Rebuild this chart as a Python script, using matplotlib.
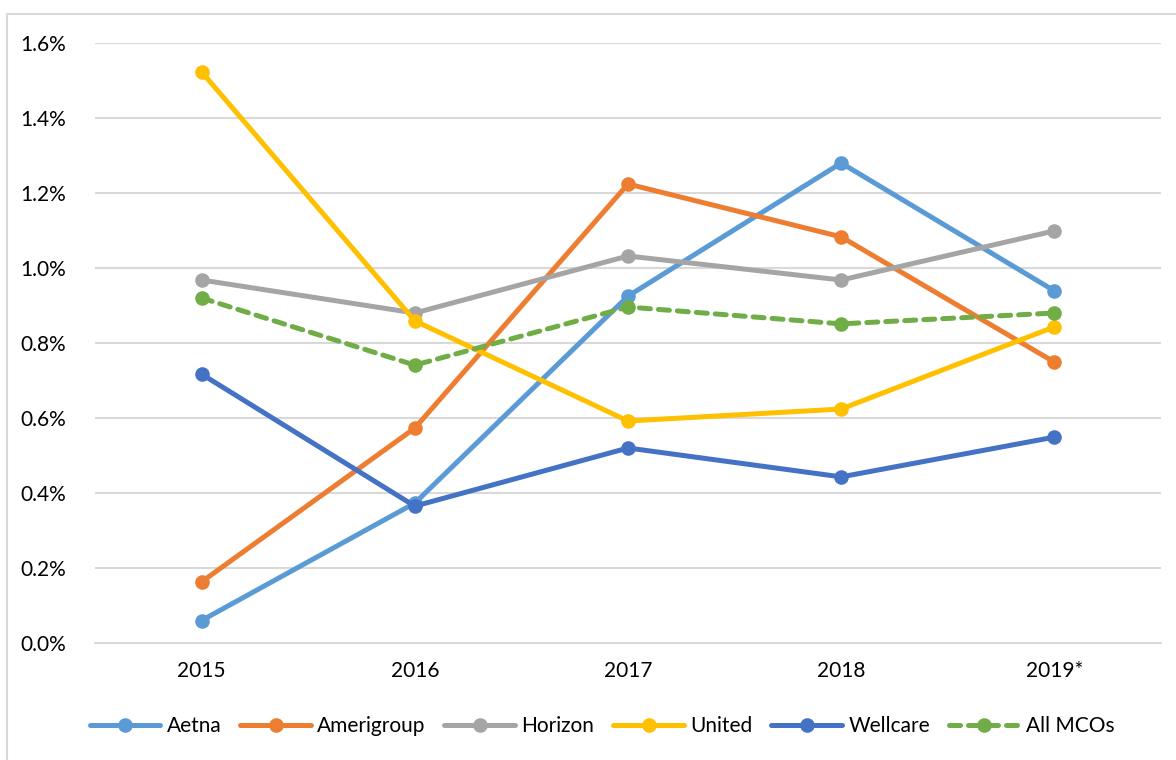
import matplotlib
matplotlib.use("Agg")
import matplotlib.pyplot as plt
from matplotlib.patches import Rectangle
from matplotlib.ticker import FuncFormatter, MultipleLocator

plt.rcParams['font.family'] = ['Lato', 'DejaVu Sans']

years = ["2015", "2016", "2017", "2018", "2019*"]
aetna = [0.06, 0.373, 0.925, 1.28, 0.939]
amerigroup = [0.163, 0.573, 1.224, 1.083, 0.749]
horizon = [0.968, 0.88, 1.032, 0.968, 1.099]
united = [1.523, 0.859, 0.592, 0.624, 0.843]
wellcare = [0.717, 0.365, 0.52, 0.443, 0.549]
all_mcos = [0.92, 0.741, 0.896, 0.851, 0.88]

series = [
    ("Aetna", aetna, "#5B9BD5", "-"),
    ("Amerigroup", amerigroup, "#ED7D31", "-"),
    ("Horizon", horizon, "#A5A5A5", "-"),
    ("United", united, "#FFC000", "-"),
    ("Wellcare", wellcare, "#4472C4", "-"),
    ("All MCOs", all_mcos, "#70AD47", (0, (2.2, 1.6))),
]

fig = plt.figure(figsize=(11.76, 7.6), dpi=100)
fig.patches.append(Rectangle((7/1176, -0.1), 1.2, 1 - 14/760 + 0.1, transform=fig.transFigure,
                             fill=False, edgecolor="#D9D9D9", linewidth=1.5, zorder=0))
ax = fig.add_axes([95/1176, 1 - 643/760, (1161 - 95)/1176, 600/760])

x = list(range(len(years)))
handles = []
for name, vals, color, ls in series:
    h, = ax.plot(x, vals, color=color, linestyle=ls, linewidth=3.6, marker="o",
                 markersize=10.5, markeredgewidth=0, label=name, solid_capstyle="round",
                 dash_capstyle="round", zorder=3)
    handles.append(h)

ax.set_xlim(-0.5, len(years) - 0.5)
ax.set_ylim(0, 1.6)
ax.yaxis.set_major_locator(MultipleLocator(0.2))
ax.yaxis.set_major_formatter(FuncFormatter(lambda v, p: f"{v:.1f}%"))
ax.set_xticks(x)
ax.set_xticklabels(years)
ax.grid(axis="y", color="#D9D9D9", linewidth=1.5, zorder=0)
for s in ax.spines.values():
    s.set_visible(False)
ax.spines["bottom"].set_visible(True)
ax.spines["bottom"].set_color("#D9D9D9")
ax.spines["bottom"].set_linewidth(1.5)
ax.tick_params(axis="both", length=0, labelsize=15, colors="#000000")
ax.tick_params(axis="y", pad=21)
ax.tick_params(axis="x", pad=13)

fig.legend(handles=handles, loc="center", bbox_to_anchor=(602/1176, 1 - 726/760), ncol=6,
           frameon=False, fontsize=15, handlelength=3.4, handletextpad=0.3, columnspacing=0.9)

fig.savefig("out.png", dpi=100)
